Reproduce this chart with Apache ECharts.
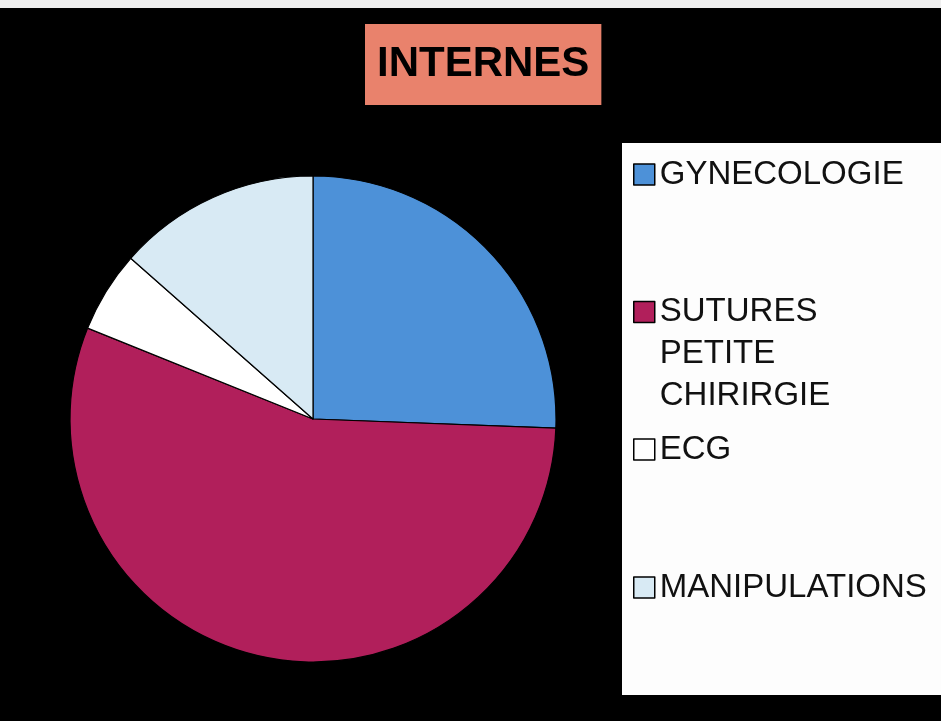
<!DOCTYPE html>
<html>
<head>
<meta charset="utf-8">
<script src="https://cdn.jsdelivr.net/npm/echarts@6/dist/echarts.min.js"></script>
<style>
  html, body { margin: 0; padding: 0; background: #000; }
  #chart1 { width: 941px; height: 721px; }
</style>
</head>
<body>
<div id="chart1"></div>
<script>
var categories = ['GYNECOLOGIE', 'SUTURES PETITE CHIRIRGIE', 'ECG', 'MANIPULATIONS'];
var values = [25.6, 55.5, 5.4, 13.5];
var colors = ['#4d91d8', '#b11f5b', '#ffffff', '#d8eaf4'];
var titleText = 'INTERNES';

var fontFamily = '"Liberation Sans", Arial, sans-serif';
var legendTops = [158, 207, 433, 571];

//每个图例单独定位
var legends = categories.map(function(name, i) {
    var multi = name.indexOf(' ') >= 0;
    return {
        data: [name],
        orient: 'vertical',
        left: 633,
        top: legendTops[i],
        padding: 0,
        icon: 'rect',
        itemWidth: 21,
        itemHeight: 21,
        itemStyle: { borderColor: '#000', borderWidth: 1.5 },
        selectedMode: false,
        formatter: function(n) {
            var parts = n.split(' ');
            // 多行文字: 首行与图标对齐
            if (parts.length > 1) {
                var pad = [];
                for (var k = 1; k < parts.length; k++) pad.push('');
                return pad.concat(parts).join('\n');
            }
            return n;
        },
        textStyle: {
            color: '#111',
            fontSize: 33,
            fontFamily: fontFamily,
            lineHeight: multi ? 42 : 21
        }
    };
});

var option = {
    backgroundColor: '#000',
    animation: false,
    color: colors,
    title: {
        text: titleText,
        left: 365,
        top: 24,
        backgroundColor: '#e9826c',
        padding: [19, 12, 20, 12],
        textStyle: {
            color: '#000',
            fontSize: 42,
            fontWeight: 'bold',
            fontFamily: fontFamily,
            textShadowColor: 'rgba(255,255,255,0.55)',
            textShadowOffsetX: 2,
            textShadowOffsetY: 2,
            textShadowBlur: 0
        }
    },
    graphic: [
        { type: 'rect', left: 0, top: 0, shape: { width: 941, height: 8 }, style: { fill: '#efefef' } },
        { type: 'rect', left: 622, top: 143, shape: { width: 319, height: 552 }, style: { fill: '#fdfdfd' } }
    ],
    legend: legends,
    series: [{
        type: 'pie',
        center: [313, 419],
        radius: 243,
        startAngle: 90,
        clockwise: true,
        label: { show: false },
        labelLine: { show: false },
        emphasis: { disabled: true },
        itemStyle: { borderColor: '#000', borderWidth: 1.2 },
        data: categories.map(function(name, i) {
            return { name: name, value: values[i] };
        })
    }]
};

var chart1 = echarts.init(document.getElementById('chart1'));
chart1.setOption(option);
window.onresize = function() {
    chart1.resize();
};
</script>
</body>
</html>
